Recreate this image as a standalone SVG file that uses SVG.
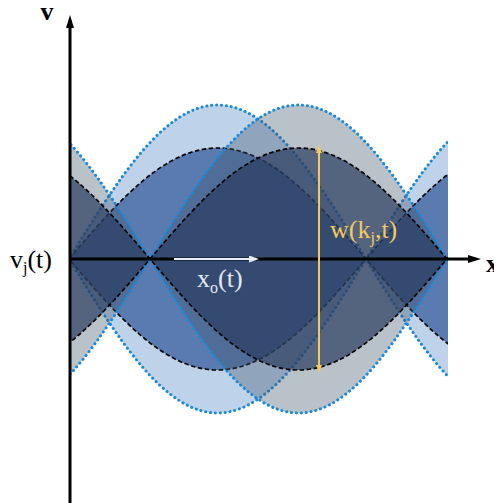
<svg xmlns="http://www.w3.org/2000/svg" width="494" height="503" viewBox="0 0 494 503">
<defs>
<style>
.aout{fill:#4f88c6;fill-opacity:0.37;stroke:#1b88d8;stroke-width:3;stroke-linecap:round;stroke-dasharray:0.1 4.8}
.bout{fill:#42576d;fill-opacity:0.37;stroke:#1b88d8;stroke-width:3;stroke-linecap:round;stroke-dasharray:0.1 4.8}
.ain{fill:#2f5597;fill-opacity:0.7;stroke:#000;stroke-width:1.7;stroke-dasharray:4.5 2.5}
.bin{fill:#293c5f;fill-opacity:0.7;stroke:#000;stroke-width:1.7;stroke-dasharray:4.5 2.5}
.axis{stroke:#000;stroke-width:3;fill:none}
.lbl{font-family:"Liberation Serif","Times New Roman",serif;font-size:26px}
</style>
<path id="outer" d="M0,259 c48.43,-78.89 94.76,-154 148.5,-154 c53.74,0 100.07,75.11 148.5,154 c-48.43,78.89 -94.76,154 -148.5,154 c-53.74,0 -100.07,-75.11 -148.5,-154 z"/>
<path id="inner" d="M0,259 c48.43,-56.87 94.76,-111 148.5,-111 c53.74,0 100.07,54.13 148.5,111 c-48.43,56.87 -94.76,111 -148.5,111 c-53.74,0 -100.07,-54.13 -148.5,-111 z"/>
<clipPath id="clip"><rect x="70" y="0" width="378" height="503"/></clipPath>
<marker id="axHead" markerUnits="userSpaceOnUse" viewBox="0 0 13 8" markerWidth="13" markerHeight="8" refX="0" refY="4" orient="auto"><path d="M0,0 L13,4 L0,8 z" fill="#000"/></marker>
<marker id="whHead" markerUnits="userSpaceOnUse" viewBox="0 0 10 7" markerWidth="10" markerHeight="7" refX="0" refY="3.5" orient="auto"><path d="M0,0 L10,3.5 L0,7 z" fill="#e8eef7"/></marker>
<marker id="yeHead" markerUnits="userSpaceOnUse" viewBox="0 0 8 6" markerWidth="8" markerHeight="6" refX="0" refY="3" orient="auto-start-reverse"><path d="M0,0 L8,3 L0,6 z" fill="#f4c95d"/></marker>
</defs>
<g id="resonances" clip-path="url(#clip)">
<g id="familyA-outer"><use href="#outer" x="69" class="aout"/><use href="#outer" x="366" class="aout"/></g>
<g id="familyA-inner"><use href="#inner" x="69" class="ain"/><use href="#inner" x="366" class="ain"/></g>
<g id="familyB-outer"><use href="#outer" x="-147" class="bout"/><use href="#outer" x="150" class="bout"/><use href="#outer" x="447" class="bout"/></g>
<g id="familyB-inner"><use href="#inner" x="-147" class="bin"/><use href="#inner" x="150" class="bin"/><use href="#inner" x="447" class="bin"/></g>
</g>
<g id="connectors">
<line class="axis" x1="70" y1="503" x2="70" y2="28" marker-end="url(#axHead)"/>
<line class="axis" x1="70" y1="259" x2="468" y2="259" marker-end="url(#axHead)"/>
<line x1="174" y1="259" x2="249" y2="259" stroke="#e8eef7" stroke-width="2.2" marker-end="url(#whHead)"/>
<line x1="319" y1="153" x2="319" y2="365" stroke="#f4c95d" stroke-width="2" marker-start="url(#yeHead)" marker-end="url(#yeHead)"/>
</g>
<g id="labels">
<text class="lbl" x="47" y="20" text-anchor="middle" font-weight="bold" font-size="22">v</text>
<text class="lbl" x="486" y="272" font-weight="bold" font-size="24">x</text>
<text class="lbl" x="10" y="268">v<tspan font-size="16" dy="5">j</tspan><tspan dy="-5">(t)</tspan></text>
<text class="lbl" x="197" y="287" fill="#e3e9f3">x<tspan font-size="16" dy="6">o</tspan><tspan dy="-6">(t)</tspan></text>
<text class="lbl" x="330" y="238" fill="#f4c95d">w(k<tspan font-size="16" dy="5">j</tspan><tspan dy="-5">,t)</tspan></text>
</g>
</svg>
